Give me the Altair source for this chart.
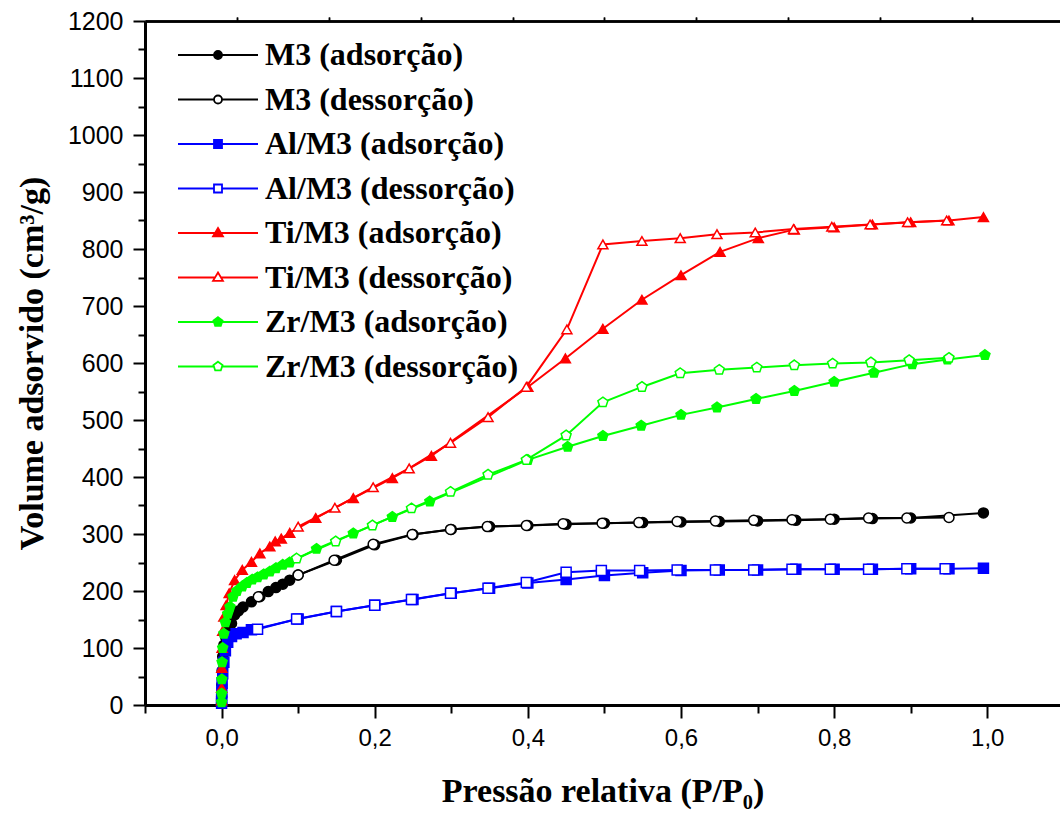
import altair as alt
import pandas as pd

SERIES = [
    "M3 (adsorção)", "M3 (dessorção)",
    "Al/M3 (adsorção)", "Al/M3 (dessorção)",
    "Ti/M3 (adsorção)", "Ti/M3 (dessorção)",
    "Zr/M3 (adsorção)", "Zr/M3 (dessorção)",
]

M3_ADS_X = [0.00002, 0.0001, 0.0003, 0.0007, 0.0015, 0.003, 0.005, 0.008, 0.013, 0.017, 0.022, 0.028,
            0.039, 0.05, 0.061, 0.071, 0.08, 0.089, 0.1, 0.15, 0.2, 0.25, 0.3, 0.35, 0.4, 0.45, 0.5,
            0.55, 0.6, 0.65, 0.7, 0.75, 0.8, 0.85, 0.9, 0.995]
M3_ADS_V = [3, 15, 35, 60, 85, 105, 120, 132, 143, 158, 165, 172, 181, 190, 199, 206, 212, 219, 228,
            254, 281, 299, 308, 313, 315, 317, 319, 320, 321, 322, 323, 324, 326, 327, 328, 337]
M3_DES_X = [0.95, 0.895, 0.845, 0.795, 0.745, 0.695, 0.645, 0.595, 0.545, 0.497, 0.446, 0.398, 0.347,
            0.299, 0.249, 0.198, 0.147, 0.1, 0.048]
M3_DES_V = [329, 328, 328, 326, 325, 324, 323, 322, 320, 319, 318, 315, 313, 308, 299, 282, 254, 228, 190]

AL_ADS_X = [0.00002, 0.0001, 0.0003, 0.0007, 0.0015, 0.003, 0.005, 0.008, 0.013, 0.019, 0.028, 0.039,
            0.1, 0.15, 0.2, 0.25, 0.3, 0.35, 0.4, 0.45, 0.5, 0.55, 0.6, 0.65, 0.7, 0.75, 0.8, 0.85,
            0.9, 0.95, 0.995]
AL_ADS_V = [3, 10, 22, 38, 55, 75, 95, 110, 120, 125, 127, 132, 151, 164, 175, 185, 196, 205, 214, 220,
            227, 232, 236, 237, 237, 238, 238, 238, 239, 239, 240]
AL_DES_X = [0.945, 0.895, 0.845, 0.795, 0.745, 0.695, 0.645, 0.595, 0.546, 0.496, 0.45, 0.398, 0.348,
            0.299, 0.248, 0.2, 0.15, 0.098, 0.047]
AL_DES_V = [239, 239, 238, 238, 238, 237, 237, 237, 236, 236, 233, 215, 205, 196, 185, 175, 164, 151, 133]

TI_ADS_X = [0.00002, 0.0001, 0.0003, 0.0007, 0.0015, 0.003, 0.006, 0.01, 0.017, 0.027, 0.039, 0.05,
            0.063, 0.07, 0.078, 0.089, 0.123, 0.172, 0.223, 0.274, 0.4, 0.449, 0.498, 0.549, 0.6,
            0.651, 0.701, 0.748, 0.8, 0.85, 0.9, 0.95, 0.995]
TI_ADS_V = [8, 30, 65, 100, 130, 155, 175, 196, 219, 237, 251, 266, 278, 287, 292, 302, 328, 363, 398,
            437, 558, 608, 660, 711, 754, 795, 819, 834, 838, 843, 847, 850, 856]
TI_DES_X = [0.947, 0.896, 0.847, 0.797, 0.747, 0.697, 0.647, 0.599, 0.549, 0.498, 0.451, 0.398, 0.348,
            0.299, 0.245, 0.198, 0.148, 0.1]
TI_DES_V = [850, 847, 843, 839, 835, 829, 826, 819, 814, 808, 659, 558, 505, 460, 415, 382, 346, 313]

ZR_ADS_X = [0.00002, 0.0001, 0.0003, 0.0007, 0.0015, 0.003, 0.005, 0.008, 0.011, 0.015, 0.02, 0.027,
            0.033, 0.04, 0.047, 0.055, 0.063, 0.071, 0.08, 0.089, 0.124, 0.172, 0.223, 0.272, 0.4,
            0.452, 0.498, 0.548, 0.6, 0.647, 0.698, 0.748, 0.8, 0.852, 0.902, 0.948, 0.997]
ZR_ADS_V = [5, 20, 45, 75, 100, 125, 145, 160, 172, 190, 200, 208, 214, 220, 224, 229, 234, 240, 246,
            250, 274, 301, 330, 357, 430, 453, 472, 490, 509, 522, 537, 551, 567, 583, 598, 606, 614]
ZR_DES_X = [0.95, 0.898, 0.848, 0.798, 0.748, 0.699, 0.65, 0.599, 0.549, 0.498, 0.45, 0.398, 0.348,
            0.299, 0.248, 0.197, 0.149, 0.098]
ZR_DES_V = [609, 605, 601, 599, 596, 592, 588, 582, 558, 531, 473, 430, 404, 374, 345, 315, 287, 257]

X_LISTS = [M3_ADS_X, M3_DES_X, AL_ADS_X, AL_DES_X, TI_ADS_X, TI_DES_X, ZR_ADS_X, ZR_DES_X]
V_LISTS = [M3_ADS_V, M3_DES_V, AL_ADS_V, AL_DES_V, TI_ADS_V, TI_DES_V, ZR_ADS_V, ZR_DES_V]

# styles
BLACK, BLUE, RED, GREEN = "#000000", "#0000FF", "#FF0000", "#00FF00"
STROKES = [BLACK, BLACK, BLUE, BLUE, RED, RED, GREEN, GREEN]
FILLS = [BLACK, "#FFFFFF", BLUE, "#FFFFFF", RED, "#FFFFFF", GREEN, "#FFFFFF"]

PENTAGON = "M0,-1.05L1,-0.32L0.62,0.85L-0.62,0.85L-1,-0.32Z"
MARKERS = {"M3": "circle", "Al/M3": "square", "Ti/M3": "triangle-up", "Zr/M3": PENTAGON}

LEG_CIRCLE = "M-5,0H-0.5M0.5,0H5M-0.5,0A0.5,0.5 0 1,1 0.5,0A0.5,0.5 0 1,1 -0.5,0Z"
LEG_SQUARE = "M-5,0H-0.5M0.5,0H5M-0.5,-0.5H0.5V0.5H-0.5Z"
LEG_TRI = "M-5,0H-0.36M0.36,0H5M0,-0.62L0.62,0.42L-0.62,0.42Z"
LEG_PENT = "M-5,0H-0.5M0.5,0H5M0,-0.6L0.57,-0.19L0.35,0.49L-0.35,0.49L-0.57,-0.19Z"
LEG_SHAPES = [LEG_CIRCLE, LEG_CIRCLE, LEG_SQUARE, LEG_SQUARE, LEG_TRI, LEG_TRI, LEG_PENT, LEG_PENT]

rows = []
for name, xs, vs in zip(SERIES, X_LISTS, V_LISTS):
    sample = name.split(" ")[0]
    for i, (x, v) in enumerate(zip(xs, vs)):
        rows.append({"series": name, "p": x, "v": v, "idx": i, "mshape": MARKERS[sample]})
df = pd.DataFrame(rows)

stroke_scale = alt.Scale(domain=SERIES, range=STROKES)
fill_scale = alt.Scale(domain=SERIES, range=FILLS)
legshape_scale = alt.Scale(domain=SERIES, range=LEG_SHAPES)

x_scale = alt.Scale(domain=[-0.1, 1.095], nice=False, zero=False)
y_scale = alt.Scale(domain=[0, 1200], nice=False, zero=True)

X_TICKS = [round(-0.1 + 0.1 * k, 2) for k in range(12)]
TOP_TICKS = [round(-0.1 + 0.12 * k, 3) for k in range(1, 10)]
Y_TICKS = list(range(0, 1201, 50))

major_x = "abs(datum.value*5 - round(datum.value*5)) < 0.001"

x_axis = alt.Axis(
    orient="bottom", values=X_TICKS, grid=False,
    labelExpr=f"{major_x} ? replace(format(datum.value, '.1f'), '.', ',') : ''",
    tickSize={"condition": {"test": major_x, "value": 13}, "value": 8},
    tickWidth=2, domainWidth=3, domainColor="black", tickColor="black",
    labelFont="Liberation Sans", labelFontSize=24, labelColor="black", labelPadding=8,
    title="Pressão relativa (P/P₀)", titleFont="Liberation Serif", titleFontWeight="bold",
    titleFontSize=34, titleColor="black", titlePadding=24,
)
y_axis = alt.Axis(
    orient="left", values=Y_TICKS, grid=False, format="d",
    labelExpr="datum.value % 100 === 0 ? datum.label : ''",
    tickSize={"condition": {"test": "datum.value % 100 === 0", "value": 12}, "value": 7},
    tickWidth=2, domainWidth=3, domainColor="black", tickColor="black",
    labelFont="Liberation Sans", labelFontSize=25, labelColor="black", labelPadding=10,
    title="Volume adsorvido (cm³/g)", titleFont="Liberation Serif", titleFontWeight="bold",
    titleFontSize=34, titleColor="black", titlePadding=18,
)
top_axis = alt.Axis(
    orient="top", values=TOP_TICKS, labels=False, title=None, grid=False,
    tickSize=4, tickWidth=1.5, domainWidth=2.5, domainColor="black", tickColor="black",
)

leg = alt.Legend(
    orient="none", legendX=57, legendY=18, title=None, padding=0,
    symbolSize=256, symbolStrokeWidth=1.8, symbolOpacity=1,
    symbolFillColor="white", symbolStrokeColor="black",
    labelFont="Liberation Serif", labelFontWeight="bold", labelFontSize=32,
    labelColor="black", labelOffset=31, labelLimit=0, rowPadding=12.5,
)

lines = alt.Chart(df).mark_line(strokeWidth=2).encode(
    x=alt.X("p:Q", scale=x_scale, axis=x_axis),
    y=alt.Y("v:Q", scale=y_scale, axis=y_axis),
    stroke=alt.Stroke("series:N", scale=stroke_scale, legend=leg),
    order=alt.Order("idx:Q"),
)

points = alt.Chart(df).mark_point(filled=True, size=100, strokeWidth=1.5, opacity=1).encode(
    x=alt.X("p:Q", scale=x_scale, axis=top_axis),
    y=alt.Y("v:Q", scale=y_scale, axis=y_axis),
    shape=alt.Shape("mshape:N", scale=None),
    fill=alt.Fill("series:N", scale=fill_scale, legend=leg),
    stroke=alt.Stroke("series:N", scale=stroke_scale, legend=leg),
)

legend_layer = alt.Chart(df).mark_point(filled=True, size=10, opacity=0).encode(
    x=alt.X("p:Q", scale=x_scale, axis=top_axis),
    y=alt.Y("v:Q", scale=y_scale, axis=y_axis),
    shape=alt.Shape("series:N", scale=legshape_scale, legend=leg),
    fill=alt.Fill("series:N", scale=fill_scale, legend=leg),
    stroke=alt.Stroke("series:N", scale=stroke_scale, legend=leg),
)

chart = alt.layer(lines, points, legend_layer).properties(
    width=915, height=684,
    autosize=alt.AutoSizeParams(type="none"),
    padding={"left": 145, "top": 21, "right": 0, "bottom": 111},
    background="white",
).configure_view(stroke=None)

chart.save("out.html", embed_options={"renderer": "svg", "actions": False})
